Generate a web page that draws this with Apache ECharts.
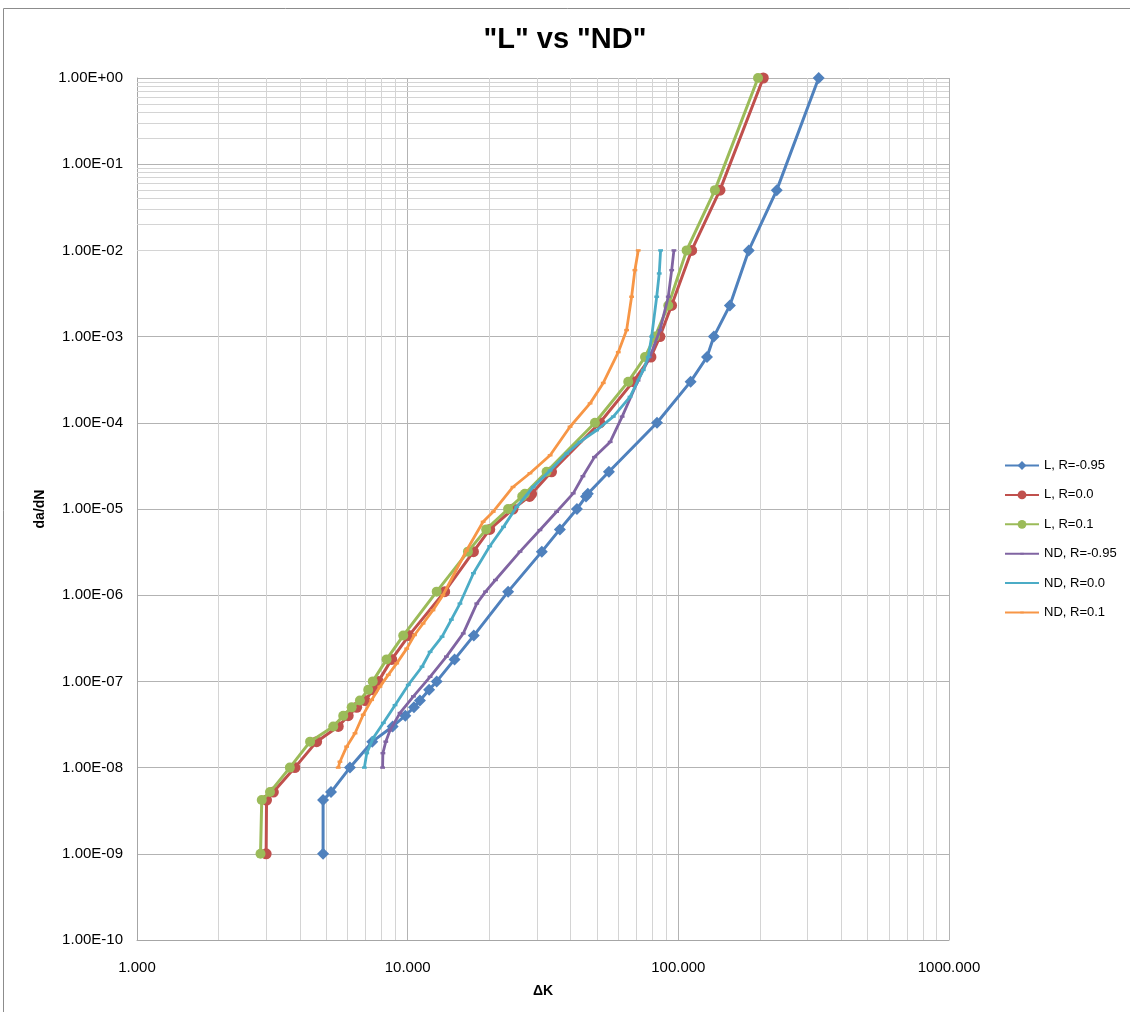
<!DOCTYPE html>
<html>
<head>
<meta charset="utf-8">
<title>"L" vs "ND"</title>
<script src="https://cdn.jsdelivr.net/npm/echarts@6/dist/echarts.min.js"></script>
<style>
  html, body { margin: 0; padding: 0; background: #ffffff; }
  #chart { width: 1130px; height: 1012px; }
</style>
</head>
<body>
<div id="chart"></div>
<script>
// da/dN levels shared by the three "L" curves
var dadnL = [1e-9, 4.2e-9, 5.2e-9, 1e-8, 2e-8, 3e-8, 4e-8, 5e-8, 6e-8, 8e-8, 1e-7, 1.8e-7, 3.4e-7, 1.1e-6,
             3.2e-6, 5.8e-6, 1e-5, 1.4e-5, 1.5e-5, 2.7e-5, 1e-4, 3e-4, 5.8e-4, 1e-3, 2.3e-3, 1e-2, 5e-2, 1];
var dkLm095 = [4.87, 4.87, 5.21, 6.12, 7.40, 8.8, 9.8, 10.55, 11.1, 12.0, 12.8, 14.9, 17.55, 23.5,
               31.3, 36.5, 42.2, 45.6, 46.3, 55.4, 83.4, 111, 127.6, 135.3, 155, 182, 231, 330];
var dkL00 = [3.0, 3.01, 3.19, 3.83, 4.61, 5.54, 6.03, 6.48, 6.96, 7.45, 7.79, 8.73, 10.1, 13.7,
             17.5, 20.1, 24.5, 28.2, 28.7, 34.0, 51.3, 68.1, 79.2, 85.5, 94.4, 112, 142.5, 206];
var dkL01 = [2.86, 2.89, 3.10, 3.67, 4.36, 5.31, 5.78, 6.21, 6.66, 7.15, 7.43, 8.36, 9.63, 12.8,
             16.7, 19.5, 23.5, 26.5, 27.1, 32.6, 49.2, 65.3, 75.3, 82, 91.8, 107.3, 136.5, 197];

// "ND" curves
var dkNDm095 = [8.08, 8.1, 8.3, 8.6, 9.37, 10.5, 12.1, 13.9, 16.05, 18.0, 19.4, 21.1, 26.0, 30.8, 35.5,
                40.9, 44.4, 49.0, 56.0, 62.0, 71.0, 78.5, 85.5, 91.8, 94.5, 96.3];
var dadnNDm095 = [1e-8, 1.47e-8, 2.0e-8, 2.7e-8, 4.3e-8, 6.7e-8, 1.13e-7, 1.94e-7, 3.6e-7, 8.0e-7, 1.1e-6, 1.5e-6,
                  3.2e-6, 5.7e-6, 9.3e-6, 1.52e-5, 2.4e-5, 4.0e-5, 6.0e-5, 1.18e-4, 3.1e-4, 5.8e-4, 1.19e-3,
                  2.9e-3, 5.9e-3, 1e-2];
var dkND00 = [6.92, 7.06, 7.46, 8.13, 8.98, 10.05, 11.3, 12.1, 13.4, 14.5, 15.6, 17.5, 20.1, 22.6, 25.3,
              29.1, 33.6, 38.7, 43.3, 49.9, 57.5, 66.3, 74.2, 77.4, 79.7, 83.2, 85.0, 86.0];
var dadnND00 = [1e-8, 1.47e-8, 2.2e-8, 3.3e-8, 5.3e-8, 9.1e-8, 1.48e-7, 2.2e-7, 3.3e-7, 5.2e-7, 8.0e-7, 1.8e-6,
                3.7e-6, 6.2e-6, 1.06e-5, 1.8e-5, 2.8e-5, 4.4e-5, 6.0e-5, 8.2e-5, 1.18e-4, 2.0e-4, 4.1e-4,
                5.8e-4, 1.0e-3, 2.9e-3, 5.4e-3, 1e-2];
var dkND01 = [5.54, 5.62, 5.95, 6.39, 6.85, 7.36, 7.90, 8.48, 9.11, 9.92, 10.6, 11.4, 12.4, 13.5, 16.5,
              19.0, 20.7, 24.5, 28.3, 33.6, 39.8, 47.2, 52.8, 60.0, 64.4, 67.2, 69.1, 71.1];
var dadnND01 = [1e-8, 1.17e-8, 1.75e-8, 2.5e-8, 4.1e-8, 6.1e-8, 8.7e-8, 1.19e-7, 1.62e-7, 2.4e-7, 3.45e-7,
                4.7e-7, 6.7e-7, 1.0e-6, 3.3e-6, 7.1e-6, 9.3e-6, 1.8e-5, 2.6e-5, 4.2e-5, 9.0e-5, 1.68e-4,
                2.9e-4, 6.6e-4, 1.19e-3, 2.9e-3, 5.9e-3, 1e-2];

var seriesNames = ['L, R=-0.95', 'L, R=0.0', 'L, R=0.1', 'ND, R=-0.95', 'ND, R=0.0', 'ND, R=0.1'];
var seriesColors = ['#4F81BD', '#C0504D', '#9BBB59', '#8064A2', '#4BACC6', '#F79646'];

// small dash marker used by the ND curves (empty moves keep it small inside its box)
var DASH = 'path://M0,0 M10,10 M3,4 L7,4 L7,6 L3,6 Z';

function pairs(xs, ys) {
    var out = [];
    for (var i = 0; i < xs.length; i++) out.push([xs[i], ys[i]]);
    return out;
}

// minor log grid lines (2..9 of each decade)
var minorLines = [];
for (var d = 0; d < 3; d++) {
    for (var k = 2; k <= 9; k++) minorLines.push({ xAxis: k * Math.pow(10, d) });
}
for (var e = -10; e < 0; e++) {
    for (var k2 = 2; k2 <= 9; k2++) minorLines.push({ yAxis: k2 * Math.pow(10, e) });
}

function sciLabel(v) {
    var ex = Math.round(Math.log10(v));
    var m = v / Math.pow(10, ex);
    var a = Math.abs(ex);
    return m.toFixed(2) + 'E' + (ex < 0 ? '-' : '+') + (a < 10 ? '0' : '') + a;
}

var FONT = 'Liberation Sans, Arial, sans-serif';

function lineSeries(i, data, symbol, size, width) {
    return {
        name: seriesNames[i],
        type: 'line',
        data: data,
        symbol: symbol,
        symbolSize: size,
        showSymbol: true,
        showAllSymbol: true,
        color: seriesColors[i],
        lineStyle: { width: width, color: seriesColors[i] },
        itemStyle: { color: seriesColors[i] },
        animation: false,
        z: 3 + i
    };
}

var myChart = echarts.init(document.getElementById('chart'), null, { renderer: 'canvas' });

var option = {
    backgroundColor: '#ffffff',
    animation: false,
    title: {
        text: '"L" vs "ND"',
        left: 'center',
        top: 20,
        textStyle: { fontFamily: FONT, fontSize: 29, fontWeight: 'bold', color: '#000' }
    },
    graphic: [{
        type: 'rect',
        shape: { x: 3.5, y: 8.5, width: 1300, height: 1200 },
        style: { fill: 'none', stroke: '#8c8c8c', lineWidth: 1 },
        silent: true
    }],
    legend: {
        data: seriesNames,
        orient: 'vertical',
        left: 999,
        top: 454,
        itemWidth: 34,
        itemHeight: 11,
        itemGap: 16.4,
        textStyle: { fontFamily: FONT, fontSize: 13, color: '#000' }
    },
    grid: { left: 137, right: 181, top: 78, bottom: 72, containLabel: false },
    xAxis: {
        type: 'log',
        logBase: 10,
        min: 1,
        max: 1000,
        interval: 1,
        name: 'ΔK',
        nameLocation: 'middle',
        nameGap: 44,
        nameTextStyle: { fontFamily: FONT, fontSize: 14, fontWeight: 'bold', color: '#000' },
        axisLine: { show: true, lineStyle: { color: '#a6a6a6' } },
        axisTick: { show: false },
        axisLabel: {
            margin: 20,
            fontFamily: FONT, fontSize: 15, color: '#000',
            formatter: function (v) { return v.toFixed(3); }
        },
        splitLine: { show: true, lineStyle: { color: '#b3b3b3', width: 1 } }
    },
    yAxis: {
        type: 'log',
        logBase: 10,
        min: 1e-10,
        max: 1,
        interval: 1,
        name: 'da/dN',
        nameLocation: 'middle',
        nameGap: 89,
        nameTextStyle: { fontFamily: FONT, fontSize: 14, fontWeight: 'bold', color: '#000' },
        axisLine: { show: true, lineStyle: { color: '#a6a6a6' } },
        axisTick: { show: false },
        axisLabel: {
            margin: 14,
            interval: 0,
            fontFamily: FONT, fontSize: 15, color: '#000',
            formatter: sciLabel
        },
        splitLine: { show: true, lineStyle: { color: '#b3b3b3', width: 1 } }
    },
    series: [
        {
            name: 'grid',
            type: 'line',
            data: [],
            z: 1,
            silent: true,
            markLine: {
                z: 1,
                silent: true,
                symbol: 'none',
                label: { show: false },
                lineStyle: { color: '#d4d4d4', width: 1, type: 'solid' },
                emphasis: { disabled: true },
                animation: false,
                data: minorLines
            }
        },
        lineSeries(0, pairs(dkLm095, dadnL), 'diamond', 12, 3),
        lineSeries(1, pairs(dkL00, dadnL), 'circle', 11, 3),
        lineSeries(2, pairs(dkL01, dadnL), 'circle', 10, 3),
        lineSeries(3, pairs(dkNDm095, dadnNDm095), DASH, 12, 2.8),
        lineSeries(4, pairs(dkND00, dadnND00), DASH, 12, 2.8),
        lineSeries(5, pairs(dkND01, dadnND01), DASH, 12, 2.8)
    ]
};
myChart.setOption(option);
</script>
</body>
</html>
